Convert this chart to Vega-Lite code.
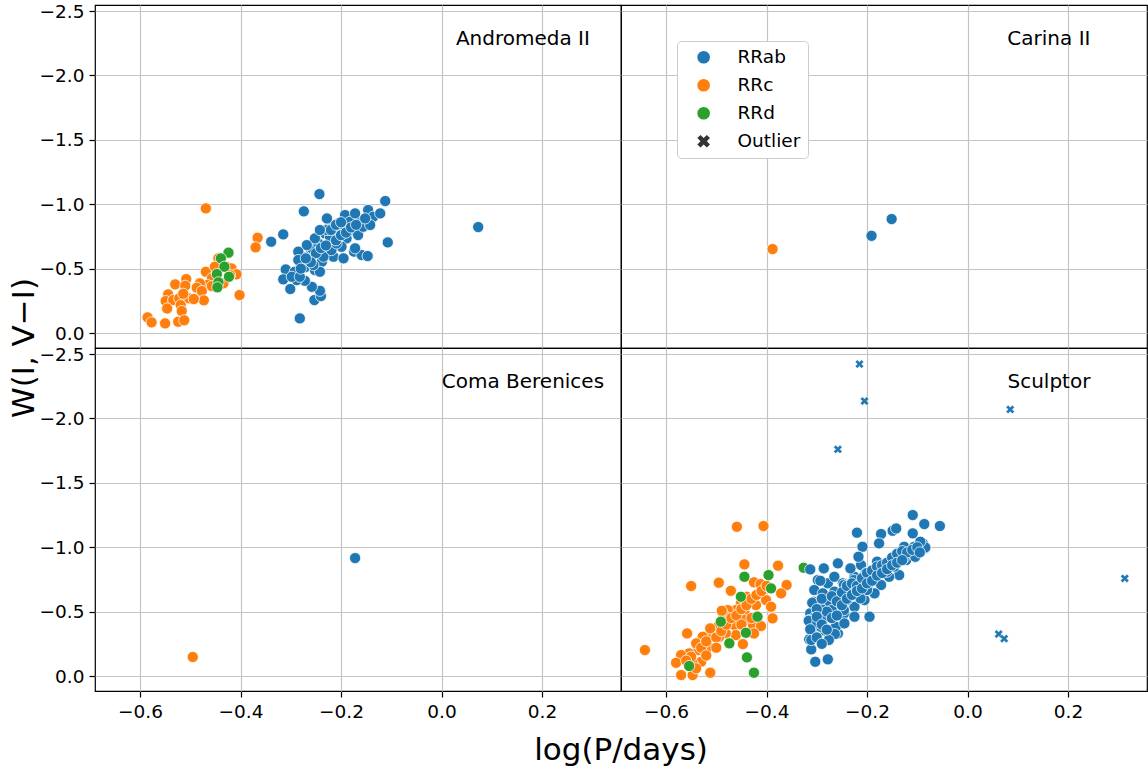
{
"$schema": "https://vega.github.io/schema/vega-lite/v6.json",
"background": "white",
"padding": {"left": 8, "top": 2, "right": 0, "bottom": 0},
"bounds": "flush",
"datasets": {
"panels": [
{"g":"Andromeda II","panelRow":"upper","panelColumn":"left"},
{"g":"Carina II","panelRow":"upper","panelColumn":"right"},
{"g":"Coma Berenices","panelRow":"lower","panelColumn":"left"},
{"g":"Sculptor","panelRow":"lower","panelColumn":"right"}
],
"stars": [
{"g":"Andromeda II","t":"RRc","p":-0.469,"w":-0.968},
{"g":"Andromeda II","t":"RRc","p":-0.366,"w":-0.740},
{"g":"Andromeda II","t":"RRc","p":-0.370,"w":-0.665},
{"g":"Andromeda II","t":"RRc","p":-0.444,"w":-0.580},
{"g":"Andromeda II","t":"RRc","p":-0.428,"w":-0.515},
{"g":"Andromeda II","t":"RRc","p":-0.418,"w":-0.502},
{"g":"Andromeda II","t":"RRc","p":-0.408,"w":-0.456},
{"g":"Andromeda II","t":"RRc","p":-0.469,"w":-0.476},
{"g":"Andromeda II","t":"RRc","p":-0.457,"w":-0.425},
{"g":"Andromeda II","t":"RRc","p":-0.466,"w":-0.373},
{"g":"Andromeda II","t":"RRc","p":-0.481,"w":-0.386},
{"g":"Andromeda II","t":"RRc","p":-0.487,"w":-0.352},
{"g":"Andromeda II","t":"RRc","p":-0.477,"w":-0.326},
{"g":"Andromeda II","t":"RRc","p":-0.473,"w":-0.254},
{"g":"Andromeda II","t":"RRc","p":-0.402,"w":-0.295},
{"g":"Andromeda II","t":"RRc","p":-0.530,"w":-0.378},
{"g":"Andromeda II","t":"RRc","p":-0.508,"w":-0.419},
{"g":"Andromeda II","t":"RRc","p":-0.510,"w":-0.367},
{"g":"Andromeda II","t":"RRc","p":-0.544,"w":-0.300},
{"g":"Andromeda II","t":"RRc","p":-0.549,"w":-0.248},
{"g":"Andromeda II","t":"RRc","p":-0.534,"w":-0.256},
{"g":"Andromeda II","t":"RRc","p":-0.522,"w":-0.269},
{"g":"Andromeda II","t":"RRc","p":-0.519,"w":-0.217},
{"g":"Andromeda II","t":"RRc","p":-0.502,"w":-0.269},
{"g":"Andromeda II","t":"RRc","p":-0.493,"w":-0.264},
{"g":"Andromeda II","t":"RRc","p":-0.546,"w":-0.191},
{"g":"Andromeda II","t":"RRc","p":-0.517,"w":-0.171},
{"g":"Andromeda II","t":"RRc","p":-0.585,"w":-0.122},
{"g":"Andromeda II","t":"RRc","p":-0.577,"w":-0.083},
{"g":"Andromeda II","t":"RRc","p":-0.550,"w":-0.075},
{"g":"Andromeda II","t":"RRc","p":-0.524,"w":-0.088},
{"g":"Andromeda II","t":"RRc","p":-0.512,"w":-0.099},
{"g":"Andromeda II","t":"RRc","p":-0.514,"w":-0.305},
{"g":"Andromeda II","t":"RRc","p":-0.457,"w":-0.365},
{"g":"Andromeda II","t":"RRc","p":-0.421,"w":-0.450},
{"g":"Andromeda II","t":"RRc","p":-0.451,"w":-0.515},
{"g":"Andromeda II","t":"RRc","p":-0.434,"w":-0.386},
{"g":"Andromeda II","t":"RRd","p":-0.424,"w":-0.624},
{"g":"Andromeda II","t":"RRd","p":-0.439,"w":-0.580},
{"g":"Andromeda II","t":"RRd","p":-0.432,"w":-0.515},
{"g":"Andromeda II","t":"RRd","p":-0.447,"w":-0.458},
{"g":"Andromeda II","t":"RRd","p":-0.423,"w":-0.437},
{"g":"Andromeda II","t":"RRd","p":-0.444,"w":-0.394},
{"g":"Andromeda II","t":"RRd","p":-0.446,"w":-0.355},
{"g":"Andromeda II","t":"RRab","p":-0.243,"w":-1.079},
{"g":"Andromeda II","t":"RRab","p":-0.274,"w":-0.945},
{"g":"Andromeda II","t":"RRab","p":-0.112,"w":-1.025},
{"g":"Andromeda II","t":"RRab","p":-0.315,"w":-0.766},
{"g":"Andromeda II","t":"RRab","p":-0.339,"w":-0.709},
{"g":"Andromeda II","t":"RRab","p":-0.107,"w":-0.704},
{"g":"Andromeda II","t":"RRab","p":-0.310,"w":-0.494},
{"g":"Andromeda II","t":"RRab","p":-0.315,"w":-0.417},
{"g":"Andromeda II","t":"RRab","p":-0.301,"w":-0.342},
{"g":"Andromeda II","t":"RRab","p":-0.282,"w":-0.114},
{"g":"Andromeda II","t":"RRab","p":-0.253,"w":-0.256},
{"g":"Andromeda II","t":"RRab","p":-0.240,"w":-0.287},
{"g":"Andromeda II","t":"RRab","p":-0.242,"w":-0.328},
{"g":"Andromeda II","t":"RRab","p":-0.258,"w":-0.359},
{"g":"Andromeda II","t":"RRab","p":-0.272,"w":-0.406},
{"g":"Andromeda II","t":"RRab","p":-0.288,"w":-0.411},
{"g":"Andromeda II","t":"RRab","p":-0.292,"w":-0.476},
{"g":"Andromeda II","t":"RRab","p":-0.282,"w":-0.554},
{"g":"Andromeda II","t":"RRab","p":-0.262,"w":-0.606},
{"g":"Andromeda II","t":"RRab","p":-0.238,"w":-0.554},
{"g":"Andromeda II","t":"RRab","p":-0.215,"w":-0.593},
{"g":"Andromeda II","t":"RRab","p":-0.195,"w":-0.580},
{"g":"Andromeda II","t":"RRab","p":-0.174,"w":-0.632},
{"g":"Andromeda II","t":"RRab","p":-0.159,"w":-0.606},
{"g":"Andromeda II","t":"RRab","p":-0.147,"w":-0.598},
{"g":"Andromeda II","t":"RRab","p":-0.272,"w":-0.510},
{"g":"Andromeda II","t":"RRab","p":-0.252,"w":-0.489},
{"g":"Andromeda II","t":"RRab","p":-0.242,"w":-0.476},
{"g":"Andromeda II","t":"RRab","p":-0.275,"w":-0.588},
{"g":"Andromeda II","t":"RRab","p":-0.258,"w":-0.658},
{"g":"Andromeda II","t":"RRab","p":-0.245,"w":-0.696},
{"g":"Andromeda II","t":"RRab","p":-0.235,"w":-0.644},
{"g":"Andromeda II","t":"RRab","p":-0.232,"w":-0.774},
{"g":"Andromeda II","t":"RRab","p":-0.222,"w":-0.839},
{"g":"Andromeda II","t":"RRab","p":-0.215,"w":-0.709},
{"g":"Andromeda II","t":"RRab","p":-0.212,"w":-0.774},
{"g":"Andromeda II","t":"RRab","p":-0.205,"w":-0.852},
{"g":"Andromeda II","t":"RRab","p":-0.192,"w":-0.916},
{"g":"Andromeda II","t":"RRab","p":-0.189,"w":-0.813},
{"g":"Andromeda II","t":"RRab","p":-0.189,"w":-0.735},
{"g":"Andromeda II","t":"RRab","p":-0.199,"w":-0.670},
{"g":"Andromeda II","t":"RRab","p":-0.179,"w":-0.800},
{"g":"Andromeda II","t":"RRab","p":-0.169,"w":-0.877},
{"g":"Andromeda II","t":"RRab","p":-0.166,"w":-0.761},
{"g":"Andromeda II","t":"RRab","p":-0.156,"w":-0.825},
{"g":"Andromeda II","t":"RRab","p":-0.146,"w":-0.955},
{"g":"Andromeda II","t":"RRab","p":-0.136,"w":-0.903},
{"g":"Andromeda II","t":"RRab","p":-0.122,"w":-0.929},
{"g":"Andromeda II","t":"RRab","p":-0.142,"w":-0.839},
{"g":"Andromeda II","t":"RRab","p":-0.172,"w":-0.658},
{"g":"Andromeda II","t":"RRab","p":-0.228,"w":-0.890},
{"g":"Andromeda II","t":"RRab","p":-0.222,"w":-0.748},
{"g":"Andromeda II","t":"RRab","p":-0.252,"w":-0.735},
{"g":"Andromeda II","t":"RRab","p":-0.268,"w":-0.683},
{"g":"Andromeda II","t":"RRab","p":-0.285,"w":-0.632},
{"g":"Andromeda II","t":"RRab","p":-0.285,"w":-0.567},
{"g":"Andromeda II","t":"RRab","p":-0.265,"w":-0.567},
{"g":"Andromeda II","t":"RRab","p":-0.255,"w":-0.528},
{"g":"Andromeda II","t":"RRab","p":-0.235,"w":-0.593},
{"g":"Andromeda II","t":"RRab","p":-0.219,"w":-0.644},
{"g":"Andromeda II","t":"RRab","p":-0.209,"w":-0.696},
{"g":"Andromeda II","t":"RRab","p":-0.205,"w":-0.800},
{"g":"Andromeda II","t":"RRab","p":-0.228,"w":-0.800},
{"g":"Andromeda II","t":"RRab","p":-0.242,"w":-0.800},
{"g":"Andromeda II","t":"RRab","p":-0.298,"w":-0.437},
{"g":"Andromeda II","t":"RRab","p":-0.282,"w":-0.437},
{"g":"Andromeda II","t":"RRab","p":-0.202,"w":-0.761},
{"g":"Andromeda II","t":"RRab","p":-0.182,"w":-0.864},
{"g":"Andromeda II","t":"RRab","p":-0.172,"w":-0.929},
{"g":"Andromeda II","t":"RRab","p":-0.152,"w":-0.890},
{"g":"Andromeda II","t":"RRab","p":0.073,"w":-0.823},
{"g":"Andromeda II","t":"RRab","p":-0.25,"w":-0.62},
{"g":"Andromeda II","t":"RRab","p":-0.24,"w":-0.66},
{"g":"Andromeda II","t":"RRab","p":-0.23,"w":-0.68},
{"g":"Andromeda II","t":"RRab","p":-0.21,"w":-0.72},
{"g":"Andromeda II","t":"RRab","p":-0.20,"w":-0.76},
{"g":"Andromeda II","t":"RRab","p":-0.19,"w":-0.78},
{"g":"Andromeda II","t":"RRab","p":-0.18,"w":-0.82},
{"g":"Andromeda II","t":"RRab","p":-0.17,"w":-0.84},
{"g":"Andromeda II","t":"RRab","p":-0.26,"w":-0.55},
{"g":"Andromeda II","t":"RRab","p":-0.27,"w":-0.58},
{"g":"Andromeda II","t":"RRab","p":-0.28,"w":-0.50},
{"g":"Andromeda II","t":"RRab","p":-0.22,"w":-0.80},
{"g":"Andromeda II","t":"RRab","p":-0.21,"w":-0.84},
{"g":"Andromeda II","t":"RRab","p":-0.20,"w":-0.86},
{"g":"Carina II","t":"RRc","p":-0.388,"w":-0.652},
{"g":"Carina II","t":"RRab","p":-0.191,"w":-0.755},
{"g":"Carina II","t":"RRab","p":-0.151,"w":-0.885},
{"g":"Coma Berenices","t":"RRc","p":-0.495,"w":-0.148},
{"g":"Coma Berenices","t":"RRab","p":-0.172,"w":-0.916},
{"g":"Sculptor","t":"RRc","p":-0.459,"w":-1.159},
{"g":"Sculptor","t":"RRc","p":-0.406,"w":-1.165},
{"g":"Sculptor","t":"RRc","p":-0.642,"w":-0.202},
{"g":"Sculptor","t":"RRc","p":-0.550,"w":-0.699},
{"g":"Sculptor","t":"RRc","p":-0.495,"w":-0.725},
{"g":"Sculptor","t":"RRc","p":-0.444,"w":-0.867},
{"g":"Sculptor","t":"RRc","p":-0.377,"w":-0.857},
{"g":"Sculptor","t":"RRc","p":-0.360,"w":-0.707},
{"g":"Sculptor","t":"RRc","p":-0.371,"w":-0.642},
{"g":"Sculptor","t":"RRc","p":-0.471,"w":-0.662},
{"g":"Sculptor","t":"RRc","p":-0.425,"w":-0.728},
{"g":"Sculptor","t":"RRc","p":-0.412,"w":-0.714},
{"g":"Sculptor","t":"RRc","p":-0.401,"w":-0.590},
{"g":"Sculptor","t":"RRc","p":-0.391,"w":-0.538},
{"g":"Sculptor","t":"RRc","p":-0.388,"w":-0.448},
{"g":"Sculptor","t":"RRc","p":-0.421,"w":-0.551},
{"g":"Sculptor","t":"RRc","p":-0.439,"w":-0.616},
{"g":"Sculptor","t":"RRc","p":-0.451,"w":-0.564},
{"g":"Sculptor","t":"RRc","p":-0.444,"w":-0.499},
{"g":"Sculptor","t":"RRc","p":-0.461,"w":-0.512},
{"g":"Sculptor","t":"RRc","p":-0.477,"w":-0.512},
{"g":"Sculptor","t":"RRc","p":-0.487,"w":-0.487},
{"g":"Sculptor","t":"RRc","p":-0.474,"w":-0.435},
{"g":"Sculptor","t":"RRc","p":-0.464,"w":-0.396},
{"g":"Sculptor","t":"RRc","p":-0.444,"w":-0.435},
{"g":"Sculptor","t":"RRc","p":-0.427,"w":-0.396},
{"g":"Sculptor","t":"RRc","p":-0.411,"w":-0.388},
{"g":"Sculptor","t":"RRc","p":-0.425,"w":-0.331},
{"g":"Sculptor","t":"RRc","p":-0.447,"w":-0.248},
{"g":"Sculptor","t":"RRc","p":-0.461,"w":-0.318},
{"g":"Sculptor","t":"RRc","p":-0.481,"w":-0.331},
{"g":"Sculptor","t":"RRc","p":-0.494,"w":-0.305},
{"g":"Sculptor","t":"RRc","p":-0.497,"w":-0.383},
{"g":"Sculptor","t":"RRc","p":-0.514,"w":-0.318},
{"g":"Sculptor","t":"RRc","p":-0.527,"w":-0.305},
{"g":"Sculptor","t":"RRc","p":-0.516,"w":-0.228},
{"g":"Sculptor","t":"RRc","p":-0.536,"w":-0.202},
{"g":"Sculptor","t":"RRc","p":-0.554,"w":-0.176},
{"g":"Sculptor","t":"RRc","p":-0.570,"w":-0.163},
{"g":"Sculptor","t":"RRc","p":-0.580,"w":-0.103},
{"g":"Sculptor","t":"RRc","p":-0.558,"w":-0.331},
{"g":"Sculptor","t":"RRc","p":-0.530,"w":-0.111},
{"g":"Sculptor","t":"RRc","p":-0.547,"w":-0.098},
{"g":"Sculptor","t":"RRc","p":-0.570,"w":-0.008},
{"g":"Sculptor","t":"RRc","p":-0.547,"w":-0.008},
{"g":"Sculptor","t":"RRc","p":-0.512,"w":-0.026},
{"g":"Sculptor","t":"RRc","p":-0.512,"w":-0.370},
{"g":"Sculptor","t":"RRc","p":-0.524,"w":-0.254},
{"g":"Sculptor","t":"RRc","p":-0.540,"w":-0.254},
{"g":"Sculptor","t":"RRc","p":-0.489,"w":-0.507},
{"g":"Sculptor","t":"RRc","p":-0.55,"w":-0.15},
{"g":"Sculptor","t":"RRc","p":-0.53,"w":-0.22},
{"g":"Sculptor","t":"RRc","p":-0.52,"w":-0.27},
{"g":"Sculptor","t":"RRc","p":-0.50,"w":-0.30},
{"g":"Sculptor","t":"RRc","p":-0.49,"w":-0.35},
{"g":"Sculptor","t":"RRc","p":-0.48,"w":-0.40},
{"g":"Sculptor","t":"RRc","p":-0.47,"w":-0.45},
{"g":"Sculptor","t":"RRc","p":-0.46,"w":-0.47},
{"g":"Sculptor","t":"RRc","p":-0.45,"w":-0.52},
{"g":"Sculptor","t":"RRc","p":-0.44,"w":-0.55},
{"g":"Sculptor","t":"RRc","p":-0.43,"w":-0.60},
{"g":"Sculptor","t":"RRc","p":-0.42,"w":-0.63},
{"g":"Sculptor","t":"RRc","p":-0.41,"w":-0.66},
{"g":"Sculptor","t":"RRc","p":-0.40,"w":-0.70},
{"g":"Sculptor","t":"RRc","p":-0.43,"w":-0.45},
{"g":"Sculptor","t":"RRc","p":-0.45,"w":-0.40},
{"g":"Sculptor","t":"RRc","p":-0.50,"w":-0.22},
{"g":"Sculptor","t":"RRc","p":-0.52,"w":-0.16},
{"g":"Sculptor","t":"RRc","p":-0.56,"w":-0.12},
{"g":"Sculptor","t":"RRc","p":-0.54,"w":-0.06},
{"g":"Sculptor","t":"RRd","p":-0.326,"w":-0.841},
{"g":"Sculptor","t":"RRd","p":-0.444,"w":-0.771},
{"g":"Sculptor","t":"RRd","p":-0.396,"w":-0.784},
{"g":"Sculptor","t":"RRd","p":-0.391,"w":-0.681},
{"g":"Sculptor","t":"RRd","p":-0.451,"w":-0.616},
{"g":"Sculptor","t":"RRd","p":-0.418,"w":-0.461},
{"g":"Sculptor","t":"RRd","p":-0.441,"w":-0.336},
{"g":"Sculptor","t":"RRd","p":-0.474,"w":-0.254},
{"g":"Sculptor","t":"RRd","p":-0.439,"w":-0.145},
{"g":"Sculptor","t":"RRd","p":-0.425,"w":-0.026},
{"g":"Sculptor","t":"RRd","p":-0.554,"w":-0.078},
{"g":"Sculptor","t":"RRd","p":-0.284,"w":-0.352},
{"g":"Sculptor","t":"RRd","p":-0.491,"w":-0.422},
{"g":"Sculptor","t":"RRab","p":-0.313,"w":-0.828},
{"g":"Sculptor","t":"RRab","p":-0.286,"w":-0.836},
{"g":"Sculptor","t":"RRab","p":-0.258,"w":-0.875},
{"g":"Sculptor","t":"RRab","p":-0.220,"w":-1.113},
{"g":"Sculptor","t":"RRab","p":-0.172,"w":-1.103},
{"g":"Sculptor","t":"RRab","p":-0.149,"w":-1.128},
{"g":"Sculptor","t":"RRab","p":-0.142,"w":-1.146},
{"g":"Sculptor","t":"RRab","p":-0.109,"w":-1.250},
{"g":"Sculptor","t":"RRab","p":-0.086,"w":-1.180},
{"g":"Sculptor","t":"RRab","p":-0.055,"w":-1.165},
{"g":"Sculptor","t":"RRab","p":-0.209,"w":-1.004},
{"g":"Sculptor","t":"RRab","p":-0.176,"w":-1.030},
{"g":"Sculptor","t":"RRab","p":-0.298,"w":-0.745},
{"g":"Sculptor","t":"RRab","p":-0.278,"w":-0.720},
{"g":"Sculptor","t":"RRab","p":-0.305,"w":-0.668},
{"g":"Sculptor","t":"RRab","p":-0.306,"w":-0.577},
{"g":"Sculptor","t":"RRab","p":-0.313,"w":-0.487},
{"g":"Sculptor","t":"RRab","p":-0.315,"w":-0.435},
{"g":"Sculptor","t":"RRab","p":-0.311,"w":-0.357},
{"g":"Sculptor","t":"RRab","p":-0.315,"w":-0.285},
{"g":"Sculptor","t":"RRab","p":-0.311,"w":-0.207},
{"g":"Sculptor","t":"RRab","p":-0.303,"w":-0.111},
{"g":"Sculptor","t":"RRab","p":-0.278,"w":-0.130},
{"g":"Sculptor","t":"RRab","p":-0.195,"w":-0.461},
{"g":"Sculptor","t":"RRab","p":-0.292,"w":-0.383},
{"g":"Sculptor","t":"RRab","p":-0.275,"w":-0.305},
{"g":"Sculptor","t":"RRab","p":-0.258,"w":-0.331},
{"g":"Sculptor","t":"RRab","p":-0.262,"w":-0.383},
{"g":"Sculptor","t":"RRab","p":-0.288,"w":-0.642},
{"g":"Sculptor","t":"RRab","p":-0.265,"w":-0.655},
{"g":"Sculptor","t":"RRab","p":-0.282,"w":-0.564},
{"g":"Sculptor","t":"RRab","p":-0.258,"w":-0.538},
{"g":"Sculptor","t":"RRab","p":-0.292,"w":-0.512},
{"g":"Sculptor","t":"RRab","p":-0.298,"w":-0.435},
{"g":"Sculptor","t":"RRab","p":-0.278,"w":-0.461},
{"g":"Sculptor","t":"RRab","p":-0.245,"w":-0.487},
{"g":"Sculptor","t":"RRab","p":-0.238,"w":-0.590},
{"g":"Sculptor","t":"RRab","p":-0.225,"w":-0.538},
{"g":"Sculptor","t":"RRab","p":-0.215,"w":-0.616},
{"g":"Sculptor","t":"RRab","p":-0.232,"w":-0.694},
{"g":"Sculptor","t":"RRab","p":-0.212,"w":-0.745},
{"g":"Sculptor","t":"RRab","p":-0.199,"w":-0.694},
{"g":"Sculptor","t":"RRab","p":-0.185,"w":-0.771},
{"g":"Sculptor","t":"RRab","p":-0.180,"w":-0.888},
{"g":"Sculptor","t":"RRab","p":-0.166,"w":-0.836},
{"g":"Sculptor","t":"RRab","p":-0.152,"w":-0.901},
{"g":"Sculptor","t":"RRab","p":-0.132,"w":-0.939},
{"g":"Sculptor","t":"RRab","p":-0.126,"w":-1.004},
{"g":"Sculptor","t":"RRab","p":-0.106,"w":-1.004},
{"g":"Sculptor","t":"RRab","p":-0.089,"w":-1.030},
{"g":"Sculptor","t":"RRab","p":-0.085,"w":-0.991},
{"g":"Sculptor","t":"RRab","p":-0.109,"w":-1.108},
{"g":"Sculptor","t":"RRab","p":-0.136,"w":-0.784},
{"g":"Sculptor","t":"RRab","p":-0.156,"w":-0.771},
{"g":"Sculptor","t":"RRab","p":-0.172,"w":-0.707},
{"g":"Sculptor","t":"RRab","p":-0.185,"w":-0.642},
{"g":"Sculptor","t":"RRab","p":-0.205,"w":-0.590},
{"g":"Sculptor","t":"RRab","p":-0.225,"w":-0.461},
{"g":"Sculptor","t":"RRab","p":-0.245,"w":-0.409},
{"g":"Sculptor","t":"RRab","p":-0.212,"w":-0.862},
{"g":"Sculptor","t":"RRab","p":-0.195,"w":-0.810},
{"g":"Sculptor","t":"RRab","p":-0.146,"w":-0.849},
{"g":"Sculptor","t":"RRab","p":-0.122,"w":-0.901},
{"g":"Sculptor","t":"RRab","p":-0.265,"w":-0.771},
{"g":"Sculptor","t":"RRab","p":-0.248,"w":-0.720},
{"g":"Sculptor","t":"RRab","p":-0.225,"w":-0.771},
{"g":"Sculptor","t":"RRab","p":-0.084,"w":-0.999},
{"g":"Sculptor","t":"RRab","p":-0.154,"w":-0.875},
{"g":"Sculptor","t":"RRab","p":-0.217,"w":-0.926},
{"g":"Sculptor","t":"RRab","p":-0.233,"w":-0.836},
{"g":"Sculptor","t":"RRab","p":-0.226,"w":-0.745},
{"g":"Sculptor","t":"RRab","p":-0.207,"w":-0.758},
{"g":"Sculptor","t":"RRab","p":-0.183,"w":-0.810},
{"g":"Sculptor","t":"RRab","p":-0.160,"w":-0.810},
{"g":"Sculptor","t":"RRab","p":-0.127,"w":-0.914},
{"g":"Sculptor","t":"RRab","p":-0.104,"w":-0.926},
{"g":"Sculptor","t":"RRab","p":-0.200,"w":-0.668},
{"g":"Sculptor","t":"RRab","p":-0.226,"w":-0.668},
{"g":"Sculptor","t":"RRab","p":-0.240,"w":-0.590},
{"g":"Sculptor","t":"RRab","p":-0.213,"w":-0.603},
{"g":"Sculptor","t":"RRab","p":-0.293,"w":-0.740},
{"g":"Sculptor","t":"RRab","p":-0.309,"w":-0.569},
{"g":"Sculptor","t":"RRab","p":-0.246,"w":-0.707},
{"g":"Sculptor","t":"RRab","p":-0.226,"w":-0.681},
{"g":"Sculptor","t":"RRab","p":-0.250,"w":-0.596},
{"g":"Sculptor","t":"RRab","p":-0.276,"w":-0.569},
{"g":"Sculptor","t":"RRab","p":-0.290,"w":-0.518},
{"g":"Sculptor","t":"RRab","p":-0.270,"w":-0.512},
{"g":"Sculptor","t":"RRab","p":-0.246,"w":-0.512},
{"g":"Sculptor","t":"RRab","p":-0.303,"w":-0.461},
{"g":"Sculptor","t":"RRab","p":-0.283,"w":-0.455},
{"g":"Sculptor","t":"RRab","p":-0.316,"w":-0.429},
{"g":"Sculptor","t":"RRab","p":-0.299,"w":-0.414},
{"g":"Sculptor","t":"RRab","p":-0.313,"w":-0.363},
{"g":"Sculptor","t":"RRab","p":-0.264,"w":-0.326},
{"g":"Sculptor","t":"RRab","p":-0.276,"w":-0.280},
{"g":"Sculptor","t":"RRab","p":-0.311,"w":-0.280},
{"g":"Sculptor","t":"RRab","p":-0.203,"w":-0.797},
{"g":"Sculptor","t":"RRab","p":-0.190,"w":-0.745},
{"g":"Sculptor","t":"RRab","p":-0.094,"w":-1.043},
{"g":"Sculptor","t":"RRab","p":-0.29,"w":-0.60},
{"g":"Sculptor","t":"RRab","p":-0.27,"w":-0.62},
{"g":"Sculptor","t":"RRab","p":-0.26,"w":-0.58},
{"g":"Sculptor","t":"RRab","p":-0.25,"w":-0.65},
{"g":"Sculptor","t":"RRab","p":-0.24,"w":-0.70},
{"g":"Sculptor","t":"RRab","p":-0.23,"w":-0.72},
{"g":"Sculptor","t":"RRab","p":-0.22,"w":-0.70},
{"g":"Sculptor","t":"RRab","p":-0.21,"w":-0.76},
{"g":"Sculptor","t":"RRab","p":-0.20,"w":-0.80},
{"g":"Sculptor","t":"RRab","p":-0.19,"w":-0.82},
{"g":"Sculptor","t":"RRab","p":-0.18,"w":-0.85},
{"g":"Sculptor","t":"RRab","p":-0.17,"w":-0.86},
{"g":"Sculptor","t":"RRab","p":-0.16,"w":-0.88},
{"g":"Sculptor","t":"RRab","p":-0.15,"w":-0.92},
{"g":"Sculptor","t":"RRab","p":-0.14,"w":-0.95},
{"g":"Sculptor","t":"RRab","p":-0.13,"w":-0.97},
{"g":"Sculptor","t":"RRab","p":-0.12,"w":-0.96},
{"g":"Sculptor","t":"RRab","p":-0.11,"w":-0.98},
{"g":"Sculptor","t":"RRab","p":-0.10,"w":-1.00},
{"g":"Sculptor","t":"RRab","p":-0.095,"w":-0.96},
{"g":"Sculptor","t":"RRab","p":-0.28,"w":-0.50},
{"g":"Sculptor","t":"RRab","p":-0.27,"w":-0.45},
{"g":"Sculptor","t":"RRab","p":-0.26,"w":-0.47},
{"g":"Sculptor","t":"RRab","p":-0.25,"w":-0.55},
{"g":"Sculptor","t":"RRab","p":-0.24,"w":-0.60},
{"g":"Sculptor","t":"RRab","p":-0.23,"w":-0.63},
{"g":"Sculptor","t":"RRab","p":-0.22,"w":-0.66},
{"g":"Sculptor","t":"RRab","p":-0.21,"w":-0.68},
{"g":"Sculptor","t":"RRab","p":-0.20,"w":-0.72},
{"g":"Sculptor","t":"RRab","p":-0.19,"w":-0.74},
{"g":"Sculptor","t":"RRab","p":-0.18,"w":-0.78},
{"g":"Sculptor","t":"RRab","p":-0.17,"w":-0.80},
{"g":"Sculptor","t":"RRab","p":-0.16,"w":-0.83},
{"g":"Sculptor","t":"RRab","p":-0.15,"w":-0.86},
{"g":"Sculptor","t":"RRab","p":-0.14,"w":-0.88},
{"g":"Sculptor","t":"RRab","p":-0.13,"w":-0.90},
{"g":"Sculptor","t":"RRab","p":-0.30,"w":-0.52},
{"g":"Sculptor","t":"RRab","p":-0.30,"w":-0.46},
{"g":"Sculptor","t":"RRab","p":-0.29,"w":-0.40},
{"g":"Sculptor","t":"RRab","p":-0.28,"w":-0.36},
{"g":"Sculptor","t":"RRab","p":-0.30,"w":-0.30},
{"g":"Sculptor","t":"RRab","p":-0.29,"w":-0.25},
{"g":"Sculptor","t":"RRab","o":1,"p":-0.215,"w":-2.422},
{"g":"Sculptor","t":"RRab","o":1,"p":-0.205,"w":-2.135},
{"g":"Sculptor","t":"RRab","o":1,"p":-0.258,"w":-1.760},
{"g":"Sculptor","t":"RRab","o":1,"p":0.085,"w":-2.070},
{"g":"Sculptor","t":"RRab","o":1,"p":0.313,"w":-0.758},
{"g":"Sculptor","t":"RRab","o":1,"p":0.062,"w":-0.326},
{"g":"Sculptor","t":"RRab","o":1,"p":0.073,"w":-0.290}
]
},
"data": {"name": "stars"},
"transform": [
{"lookup": "g", "from": {"data": {"name": "panels"}, "key": "g", "fields": ["panelRow", "panelColumn"]}}
],
"facet": {
"row": {"field": "panelRow", "type": "nominal", "sort": ["upper", "lower"],
 "header": {"labels": false, "title": "W(I, V−I)", "titleOrient": "left", "titleFont": "DejaVu Sans", "titleFontSize": 31, "titleFontWeight": "normal", "titleColor": "black", "titlePadding": -12}},
"column": {"field": "panelColumn", "type": "nominal", "sort": ["left", "right"],
 "header": {"labels": false, "title": "log(P/days)", "titleOrient": "bottom", "titleFont": "DejaVu Sans", "titleFontSize": 31, "titleFontWeight": "normal", "titleColor": "black", "titlePadding": 5}}
},
"spacing": {"row": 0, "column": 0},
"spec": {
"width": 526,
"height": 343,
"layer": [
{
"transform": [{"filter": "!datum.o"}],
"mark": {"type": "point", "filled": true, "size": 125, "stroke": "white", "strokeWidth": 0.75, "opacity": 1},
"encoding": {
"x": {"field": "p", "type": "quantitative", "scale": {"domain": [-0.6896, 0.3572], "nice": false, "zero": false}, "axis": {"values": [-0.6, -0.4, -0.2, 0, 0.2], "format": ".1f", "title": null}},
"y": {"field": "w", "type": "quantitative", "scale": {"domain": [-2.547, 0.116], "reverse": true, "nice": false, "zero": false}, "axis": {"values": [-2.5, -2, -1.5, -1, -0.5, 0], "format": ".1f", "title": null}},
"color": {"field": "t", "type": "nominal", "scale": {"domain": ["RRab", "RRc", "RRd", "Outlier"], "range": ["#1f77b4", "#ff7f0e", "#2ca02c", "#333333"]}, "legend": {"title": null, "orient": "none", "legendX": 582, "legendY": 36}},
"shape": {"field": "t", "type": "nominal", "scale": {"domain": ["RRab", "RRc", "RRd", "Outlier"], "range": ["circle", "circle", "circle", "M-1,-0.5L-0.5,-1L0,-0.5L0.5,-1L1,-0.5L0.5,0L1,0.5L0.5,1L0,0.5L-0.5,1L-1,0.5L-0.5,0Z"]}, "legend": {"title": null, "orient": "none", "legendX": 582, "legendY": 36}}
}
},
{
"transform": [{"filter": "datum.o == 1"}],
"mark": {"type": "point", "filled": true, "size": 72, "shape": "M-1,-0.5L-0.5,-1L0,-0.5L0.5,-1L1,-0.5L0.5,0L1,0.5L0.5,1L0,0.5L-0.5,1L-1,0.5L-0.5,0Z", "color": "#1f77b4", "stroke": "white", "strokeWidth": 0.4, "opacity": 1},
"encoding": {
"x": {"field": "p", "type": "quantitative"},
"y": {"field": "w", "type": "quantitative"}
}
},
{
"transform": [{"aggregate": [{"op": "count", "as": "n"}], "groupby": ["g"]}],
"mark": {"type": "text", "font": "DejaVu Sans", "fontSize": 20, "color": "black", "align": "center", "baseline": "middle"},
"encoding": {
"x": {"datum": 0.162, "type": "quantitative"},
"y": {"datum": -2.283, "type": "quantitative"},
"text": {"field": "g", "type": "nominal"}
}
}
]
},
"config": {
"font": "DejaVu Sans",
"view": {"stroke": "black", "strokeWidth": 1.2},
"axis": {"domain": false, "tickColor": "black", "tickSize": 6, "tickWidth": 1.2, "labelFont": "DejaVu Sans", "labelFontSize": 18.5, "labelColor": "black", "labelPadding": 5, "gridColor": "#c4c4c4", "gridWidth": 1.2, "labelFlush": false, "labelOverlap": false, "labelBound": false},
"legend": {"labelFont": "DejaVu Sans", "labelFontSize": 18.5, "labelColor": "black", "symbolSize": 160, "symbolStrokeWidth": 0, "padding": 7, "rowPadding": 9, "symbolOffset": 10.4, "labelOffset": 24.6, "fillColor": "white", "strokeColor": "#cccccc", "cornerRadius": 4}
}
}
